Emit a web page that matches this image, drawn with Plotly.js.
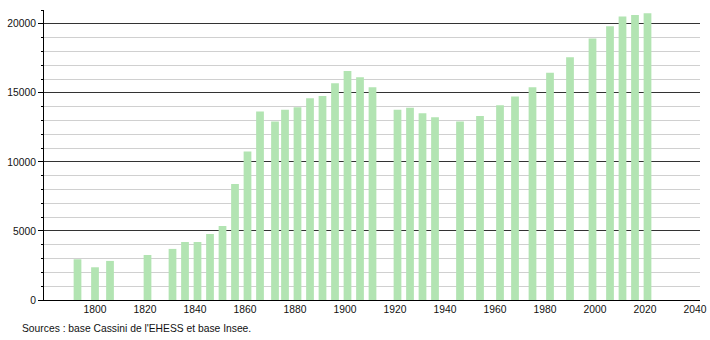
<!DOCTYPE html>
<html>
<head>
<meta charset="utf-8">
<script src="https://cdn.plot.ly/plotly-3.0.1.min.js"></script>
<style>
  html, body { margin: 0; padding: 0; background: #fff; }
  #chart { width: 710px; height: 340px; }
</style>
</head>
<body>
<div id="chart"></div>
<script>
const years = [1793, 1800, 1806, 1821, 1831, 1836, 1841, 1846, 1851, 1856,
               1861, 1866, 1872, 1876, 1881, 1886, 1891, 1896, 1901, 1906,
               1911, 1921, 1926, 1931, 1936, 1946, 1954, 1962, 1968, 1975,
               1982, 1990, 1999, 2006, 2011, 2016, 2021];
const population = [2950, 2370, 2830, 3260, 3700, 4200, 4200, 4780, 5360, 8400,
                    10750, 13650, 12920, 13770, 13960, 14610, 14780, 15700, 16590, 16130,
                    15410, 13770, 13930, 13530, 13240, 12920, 13330, 14100, 14730, 15410,
                    16450, 17580, 18930, 19830, 20530, 20630, 20770];
const xTicks = [1800, 1820, 1840, 1860, 1880, 1900, 1920, 1940, 1960, 1980, 2000, 2020, 2040];
const yTicks = [0, 5000, 10000, 15000, 20000];
const sourceText = "Sources : base Cassini de l'EHESS et base Insee.";

const font = "Liberation Sans, Arial, sans-serif";
const fsize = 10.3;

Plotly.newPlot('chart', [{
  type: 'bar',
  x: years,
  y: population,
  width: 3.1,
  marker: { color: 'rgb(178,228,178)', line: { width: 0 } },
  hoverinfo: 'x+y'
}], {
  width: 710,
  height: 340,
  margin: { l: 44, r: 10, t: 10, b: 40 },
  paper_bgcolor: '#fff',
  plot_bgcolor: '#fff',
  showlegend: false,
  font: { family: font, size: fsize, color: '#111' },
  xaxis: {
    range: [1779.6, 2042],
    tickvals: xTicks,
    ticktext: xTicks.map(String),
    showgrid: false,
    zeroline: false,
    showline: true,
    linecolor: '#000',
    linewidth: 1,
    ticks: '',
    tickfont: { family: font, size: fsize, color: '#111' }
  },
  yaxis: {
    range: [0, 21000],
    tickvals: yTicks,
    ticktext: yTicks.map(String),
    showgrid: true,
    gridcolor: '#333',
    gridwidth: 1,
    zeroline: false,
    showline: true,
    linecolor: '#000',
    linewidth: 1,
    ticks: 'outside',
    ticklen: 5,
    tickcolor: '#000',
    tickfont: { family: font, size: fsize, color: '#111' },
    minor: {
      dtick: 1000,
      showgrid: true,
      gridcolor: '#d0d0d0',
      gridwidth: 1,
      ticks: 'outside',
      ticklen: 2,
      tickcolor: '#000'
    }
  },
  annotations: [{
    text: sourceText,
    xref: 'paper', yref: 'paper',
    x: -24 / 656, y: -28 / 290,
    xanchor: 'left', yanchor: 'middle',
    showarrow: false,
    font: { family: font, size: fsize, color: '#111' }
  }]
}, { displayModeBar: false, staticPlot: true });
</script>
</body>
</html>
